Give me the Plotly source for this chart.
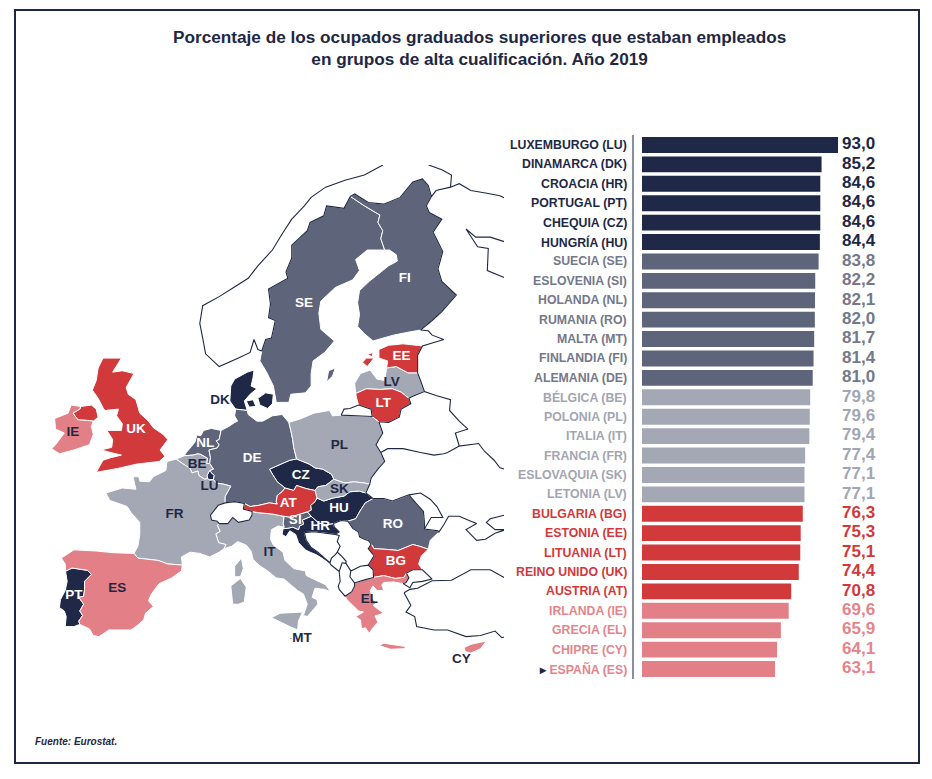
import plotly.graph_objects as go

# ── Datos de las barras ───────────────────────────────────────────────────────

paises = [
    "LUXEMBURGO (LU)", "DINAMARCA (DK)", "CROACIA (HR)", "PORTUGAL (PT)",
    "CHEQUIA (CZ)", "HUNGRÍA (HU)", "SUECIA (SE)", "ESLOVENIA (SI)",
    "HOLANDA (NL)", "RUMANIA (RO)", "MALTA (MT)", "FINLANDIA (FI)",
    "ALEMANIA (DE)", "BÉLGICA (BE)", "POLONIA (PL)", "ITALIA (IT)",
    "FRANCIA (FR)", "ESLOVAQUIA (SK)", "LETONIA (LV)", "BULGARIA (BG)",
    "ESTONIA (EE)", "LITUANIA (LT)", "REINO UNIDO (UK)", "AUSTRIA (AT)",
    "IRLANDA (IE)", "GRECIA (EL)", "CHIPRE (CY)", "ESPAÑA (ES)",
]
codigos = ["LU", "DK", "HR", "PT", "CZ", "HU", "SE", "SI", "NL", "RO", "MT", "FI",
           "DE", "BE", "PL", "IT", "FR", "SK", "LV", "BG", "EE", "LT", "UK", "AT",
           "IE", "EL", "CY", "ES"]
iso3 = ["LUX", "DNK", "HRV", "PRT", "CZE", "HUN", "SWE", "SVN", "NLD", "ROU", "MLT", "FIN",
        "DEU", "BEL", "POL", "ITA", "FRA", "SVK", "LVA", "BGR", "EST", "LTU", "GBR", "AUT",
        "IRL", "GRC", "CYP", "ESP"]
valores = [93.0, 85.2, 84.6, 84.6, 84.6, 84.4, 83.8, 82.2, 82.1, 82.0, 81.7, 81.4,
           81.0, 79.8, 79.6, 79.4, 77.4, 77.1, 77.1, 76.3, 75.3, 75.1, 74.4, 70.8,
           69.6, 65.9, 64.1, 63.1]
grupo = [0] * 6 + [1] * 7 + [2] * 6 + [3] * 5 + [4] * 4

# etiquetas del mapa colocadas junto al país (borde usado, posición del texto)
fuera = {"DK": ("oeste", "middle left"), "LU": ("sur", "bottom center"),
         "MT": ("este", "middle right"), "CY": ("sur", "bottom left")}
ajuste = {"SE": "bottom left", "FI": "bottom center", "UK": "bottom right",
          "HR": "top right"}

TITULO = ("Porcentaje de los ocupados graduados superiores que estaban empleados<br>"
          "en grupos de alta cualificación. Año 2019")
FUENTE = "Fuente: Eurostat."

# ── Contornos simplificados (lon, lat) ────────────────────────────────────────

PRT = [[(-8.87, 41.87), (-8.2, 42.15), (-6.6, 41.95), (-6.2, 41.6), (-6.9, 41.0), (-6.9, 40.3),
        (-7.0, 39.7), (-7.5, 39.6), (-7.0, 39.0), (-7.4, 38.4), (-7.1, 38.0), (-7.5, 37.5),
        (-7.4, 37.2), (-8.0, 37.0), (-8.9, 37.0), (-8.8, 37.9), (-9.0, 38.4), (-9.5, 38.7),
        (-9.4, 39.4), (-8.9, 40.2), (-8.7, 41.0)]]
ESP = [[(-9.3, 43.0), (-8.0, 43.7), (-5.7, 43.6), (-3.8, 43.45), (-1.8, 43.4), (-1.4, 43.0),
        (0.7, 42.8), (1.7, 42.5), (3.2, 42.4), (3.1, 41.9), (2.1, 41.3), (0.8, 40.8), (0.0, 39.9),
        (-0.3, 39.3), (0.2, 38.8), (-0.6, 38.2), (-0.8, 37.6), (-1.6, 37.0), (-2.1, 36.7),
        (-4.4, 36.7), (-5.4, 36.1), (-6.0, 36.2), (-6.4, 36.8), (-7.4, 37.2), (-7.5, 37.5),
        (-7.1, 38.0), (-7.4, 38.4), (-7.0, 39.0), (-7.5, 39.6), (-7.0, 39.7), (-6.9, 40.3),
        (-6.9, 41.0), (-6.2, 41.6), (-6.6, 41.95), (-8.2, 42.15), (-8.87, 41.87), (-8.9, 42.5)]]
FRA = [[(2.55, 51.09), (1.6, 50.9), (1.5, 50.2), (0.2, 49.7), (-0.2, 49.3), (-1.2, 49.35),
        (-1.3, 49.7), (-1.9, 49.7), (-1.6, 48.7), (-3.0, 48.8), (-4.7, 48.4), (-4.3, 47.8),
        (-2.5, 47.3), (-2.1, 46.8), (-1.2, 46.0), (-1.2, 45.0), (-1.4, 44.0), (-1.8, 43.4),
        (-1.4, 43.0), (0.7, 42.8), (1.7, 42.5), (3.2, 42.4), (3.1, 43.1), (4.0, 43.5), (5.0, 43.4),
        (6.0, 43.1), (7.0, 43.5), (7.5, 43.8), (7.7, 44.15), (6.95, 44.3), (6.65, 45.05),
        (7.1, 45.25), (6.8, 45.75), (7.0, 45.9), (6.8, 46.1), (6.2, 46.2), (6.1, 46.6),
        (6.9, 47.4), (7.6, 47.6), (7.6, 48.1), (8.2, 48.95), (7.5, 49.1), (6.7, 49.2),
        (6.4, 49.47), (6.0, 49.45), (5.8, 49.55), (5.5, 49.5), (4.9, 49.8), (4.8, 50.15),
        (4.2, 50.0), (4.0, 50.35), (3.2, 50.75)],
       [(8.6, 41.4), (8.6, 42.3), (9.3, 43.0), (9.5, 42.1), (9.2, 41.4)]]
BEL = [[(2.55, 51.09), (3.4, 51.35), (4.3, 51.4), (4.8, 51.5), (5.1, 51.45), (5.8, 51.15),
        (5.7, 50.75), (6.02, 50.75), (6.4, 50.3), (6.0, 50.18), (5.75, 49.8), (5.8, 49.55),
        (5.5, 49.5), (4.9, 49.8), (4.8, 50.15), (4.2, 50.0), (4.0, 50.35), (3.2, 50.75)]]
LUX = [[(5.8, 49.55), (5.75, 49.8), (6.0, 50.18), (6.15, 50.05), (6.5, 49.8), (6.4, 49.47),
        (6.0, 49.45)]]
NLD = [[(3.4, 51.35), (3.6, 51.6), (4.0, 51.95), (4.5, 52.4), (4.7, 52.95), (5.1, 52.9),
        (5.4, 53.3), (6.2, 53.45), (7.2, 53.3), (7.0, 52.6), (6.7, 52.5), (7.0, 52.2),
        (6.8, 51.95), (5.95, 51.8), (6.1, 51.2), (6.02, 50.75), (5.7, 50.75), (5.8, 51.15),
        (5.1, 51.45), (4.8, 51.5), (4.3, 51.4)]]
DEU = [[(7.2, 53.3), (8.0, 53.6), (8.6, 53.9), (8.9, 54.0), (8.6, 54.4), (8.7, 54.9),
        (9.9, 54.8), (10.0, 54.5), (10.9, 54.0), (11.5, 54.0), (12.5, 54.4), (13.5, 54.5),
        (14.2, 53.9), (14.4, 53.3), (14.6, 52.6), (14.7, 52.0), (15.0, 51.1), (14.3, 51.0),
        (12.2, 50.3), (12.5, 49.9), (13.0, 49.3), (13.8, 48.8), (13.5, 48.5), (13.0, 48.2),
        (12.9, 47.7), (13.0, 47.5), (12.2, 47.6), (11.1, 47.4), (10.2, 47.3), (9.6, 47.55),
        (8.6, 47.7), (7.6, 47.6), (7.6, 48.1), (8.2, 48.95), (7.5, 49.1), (6.7, 49.2),
        (6.4, 49.47), (6.5, 49.8), (6.15, 50.05), (6.0, 50.18), (6.4, 50.3), (6.02, 50.75),
        (6.1, 51.2), (5.95, 51.8), (6.8, 51.95), (7.0, 52.2), (6.7, 52.5), (7.0, 52.6)]]
DNK = [[(8.7, 54.9), (8.1, 55.5), (8.2, 56.6), (8.6, 57.1), (9.9, 57.6), (10.6, 57.75),
        (10.5, 57.2), (10.3, 56.6), (10.9, 56.4), (10.2, 56.0), (9.6, 55.5), (9.9, 54.8)],
       [(11.0, 55.7), (11.8, 56.1), (12.6, 56.0), (12.5, 55.3), (12.0, 54.95), (11.2, 55.2)],
       [(9.8, 55.5), (10.5, 55.6), (10.8, 55.1), (10.1, 55.05)]]
GBR = [[(-5.7, 50.05), (-3.5, 50.35), (-1.5, 50.7), (0.8, 50.9), (1.4, 51.3), (0.9, 51.8),
        (1.7, 52.6), (1.2, 53.0), (0.2, 53.5), (-0.3, 54.0), (-1.2, 54.6), (-1.6, 55.6),
        (-2.4, 56.0), (-2.6, 56.5), (-1.8, 57.5), (-3.0, 57.7), (-4.0, 57.6), (-3.1, 58.6),
        (-5.0, 58.6), (-5.5, 57.9), (-5.7, 57.0), (-6.1, 56.3), (-5.5, 55.7), (-5.0, 55.0),
        (-4.8, 54.8), (-3.4, 54.9), (-3.6, 54.4), (-3.0, 53.8), (-3.1, 53.3), (-4.6, 53.3),
        (-4.0, 52.6), (-4.1, 52.0), (-5.2, 51.8), (-4.2, 51.6), (-3.1, 51.4), (-4.2, 51.2),
        (-5.0, 51.0)],
       [(-5.5, 54.3), (-5.7, 54.9), (-6.2, 55.2), (-7.3, 55.1), (-7.4, 54.9), (-8.1, 54.6),
        (-7.6, 54.1), (-6.6, 54.05), (-6.0, 54.0)]]
IRL = [[(-6.0, 54.0), (-6.6, 54.05), (-7.6, 54.1), (-8.1, 54.6), (-7.4, 54.9), (-7.3, 55.1),
        (-8.3, 55.2), (-8.6, 54.6), (-10.0, 54.2), (-9.9, 53.4), (-9.0, 53.1), (-9.9, 52.2),
        (-10.3, 51.9), (-9.5, 51.5), (-8.0, 51.8), (-6.4, 52.2), (-6.0, 53.0), (-6.2, 53.6)]]
ITA = [[(7.5, 43.8), (8.3, 44.0), (8.9, 44.4), (9.8, 44.1), (10.3, 43.6), (10.5, 42.9),
        (11.1, 42.4), (12.0, 41.9), (12.9, 41.3), (13.7, 41.2), (14.4, 40.7), (15.1, 40.2),
        (15.7, 39.9), (16.1, 39.0), (15.7, 38.0), (16.1, 37.9), (16.6, 38.4), (17.2, 39.0),
        (17.1, 39.4), (16.6, 39.6), (16.9, 40.4), (17.9, 40.3), (18.5, 40.1), (18.0, 40.7),
        (17.0, 41.1), (16.0, 41.5), (15.9, 41.9), (14.7, 42.1), (13.8, 42.8), (13.6, 43.5),
        (12.6, 44.1), (12.3, 44.6), (12.4, 45.4), (13.1, 45.7), (13.7, 45.6), (13.6, 45.9),
        (13.7, 46.5), (12.4, 46.7), (11.0, 46.8), (10.4, 46.9), (10.4, 46.6), (10.1, 46.2),
        (9.0, 46.0), (8.4, 46.4), (7.9, 45.9), (7.0, 45.9), (6.8, 45.75), (7.1, 45.25),
        (6.65, 45.05), (6.95, 44.3), (7.7, 44.15)],
       [(12.4, 37.8), (13.3, 38.2), (15.6, 38.3), (15.2, 37.5), (15.1, 36.7), (14.3, 37.0)],
       [(8.4, 39.0), (8.2, 40.6), (9.2, 41.25), (9.8, 40.5), (9.6, 39.2), (9.0, 39.0)]]
AUT = [[(9.6, 47.55), (10.2, 47.3), (11.1, 47.4), (12.2, 47.6), (13.0, 47.5), (12.9, 47.7),
        (13.0, 48.2), (13.5, 48.5), (13.8, 48.8), (14.7, 48.6), (15.0, 49.0), (16.0, 48.75),
        (16.9, 48.6), (17.1, 48.0), (16.9, 47.7), (16.45, 47.4), (16.5, 47.0), (16.1, 46.87),
        (15.0, 46.6), (14.6, 46.4), (13.7, 46.5), (12.4, 46.7), (11.0, 46.8), (10.4, 46.9),
        (9.5, 47.1)]]
CZE = [[(12.2, 50.3), (14.3, 51.0), (15.0, 51.1), (16.3, 50.7), (16.9, 50.4), (17.7, 50.3),
        (18.6, 49.9), (18.85, 49.5), (18.0, 49.0), (17.2, 48.9), (16.9, 48.6), (16.0, 48.75),
        (15.0, 49.0), (14.7, 48.6), (13.8, 48.8), (13.0, 49.3), (12.5, 49.9)]]
POL = [[(14.2, 53.9), (15.5, 54.2), (16.8, 54.6), (18.4, 54.8), (18.7, 54.4), (19.6, 54.45),
        (22.8, 54.35), (23.5, 53.95), (23.9, 53.1), (23.5, 52.6), (23.2, 52.2), (23.7, 51.6),
        (24.1, 50.9), (23.5, 50.4), (22.7, 49.6), (22.55, 49.1), (22.0, 49.2), (20.9, 49.3),
        (20.0, 49.2), (19.2, 49.4), (18.85, 49.5), (18.6, 49.9), (17.7, 50.3), (16.9, 50.4),
        (16.3, 50.7), (15.0, 51.1), (14.7, 52.0), (14.6, 52.6), (14.4, 53.3)]]
SVK = [[(16.9, 48.6), (17.2, 48.9), (18.0, 49.0), (18.85, 49.5), (19.2, 49.4), (20.0, 49.2),
        (20.9, 49.3), (22.0, 49.2), (22.55, 49.1), (22.15, 48.4), (21.5, 48.55), (20.5, 48.5),
        (19.9, 48.15), (18.8, 48.0), (17.8, 47.75), (17.1, 48.0)]]
HUN = [[(17.1, 48.0), (17.8, 47.75), (18.8, 48.0), (19.9, 48.15), (20.5, 48.5), (21.5, 48.55),
        (22.15, 48.4), (22.9, 47.95), (22.1, 47.6), (21.6, 47.0), (21.1, 46.3), (20.3, 46.1),
        (19.6, 46.15), (18.8, 45.9), (18.0, 45.8), (17.3, 45.95), (16.5, 46.5), (16.1, 46.87),
        (16.5, 47.0), (16.45, 47.4), (16.9, 47.7)]]
SVN = [[(13.7, 46.5), (14.6, 46.4), (15.0, 46.6), (16.1, 46.87), (16.5, 46.5), (15.6, 46.2),
        (15.7, 45.85), (15.3, 45.7), (15.2, 45.4), (14.6, 45.6), (14.0, 45.5), (13.6, 45.48),
        (13.7, 45.6), (13.6, 45.9)]]
HRV = [[(13.6, 45.48), (14.0, 45.5), (14.6, 45.6), (15.2, 45.4), (15.3, 45.7), (15.7, 45.85),
        (15.6, 46.2), (16.5, 46.5), (17.3, 45.95), (18.0, 45.8), (18.8, 45.9), (18.9, 45.6),
        (19.4, 45.2), (19.0, 45.0), (18.0, 45.1), (17.0, 45.2), (16.5, 45.2), (15.8, 45.15),
        (16.0, 44.5), (16.5, 43.9), (17.2, 43.5), (17.8, 43.05), (18.45, 42.6), (18.5, 42.45),
        (17.6, 43.0), (17.0, 43.3), (16.4, 43.5), (15.9, 43.7), (15.2, 44.3), (14.9, 45.0),
        (14.3, 45.3), (13.9, 44.8), (13.5, 45.0)]]
ROU = [[(20.3, 46.1), (21.1, 46.3), (21.6, 47.0), (22.1, 47.6), (22.9, 47.95), (24.0, 47.95),
        (24.9, 47.75), (26.6, 48.25), (27.3, 47.6), (28.1, 46.9), (28.2, 46.0), (28.2, 45.45),
        (29.6, 45.3), (29.7, 45.2), (28.8, 44.5), (28.6, 43.75), (27.7, 44.0), (27.0, 44.15),
        (25.5, 43.65), (24.1, 43.75), (23.0, 43.8), (22.7, 44.2), (22.4, 44.5), (22.0, 44.6),
        (21.5, 44.8), (21.4, 45.2), (20.8, 45.5)]]
BGR = [[(22.7, 44.2), (23.0, 43.8), (24.1, 43.75), (25.5, 43.65), (27.0, 44.15), (27.7, 44.0),
        (28.6, 43.75), (27.9, 43.2), (27.6, 42.5), (28.0, 42.0), (27.0, 42.0), (26.35, 41.71),
        (26.1, 41.35), (25.2, 41.25), (24.0, 41.5), (22.95, 41.34), (22.9, 42.0), (22.4, 42.4),
        (23.0, 43.2), (22.4, 43.8)]]
GRC = [[(20.0, 39.7), (20.7, 40.1), (21.0, 40.6), (20.98, 40.86), (22.1, 41.15), (22.95, 41.34),
        (24.0, 41.5), (25.2, 41.25), (26.1, 41.35), (26.35, 41.71), (26.6, 41.3), (26.3, 40.9),
        (26.0, 40.8), (25.0, 40.95), (24.0, 40.9), (23.8, 40.7), (24.0, 40.2), (23.3, 40.2),
        (22.9, 40.6), (22.6, 40.2), (22.9, 39.4), (23.3, 39.1), (22.9, 38.9), (23.5, 38.5),
        (24.0, 38.2), (23.1, 37.95), (23.4, 37.4), (22.8, 36.8), (22.5, 36.4), (22.1, 36.9),
        (21.7, 36.8), (21.6, 37.6), (21.1, 37.9), (21.9, 38.3), (21.4, 38.4), (20.8, 38.9),
        (20.2, 39.4)],
       [(23.5, 35.3), (24.0, 35.5), (25.5, 35.3), (26.3, 35.2), (26.1, 35.0), (24.7, 34.95)]]
CYP = [[(32.3, 35.1), (33.0, 35.4), (34.6, 35.7), (34.0, 35.0), (33.0, 34.6), (32.4, 34.75)]]
MLT = [[(14.2, 36.05), (14.55, 35.95), (14.55, 35.8), (14.35, 35.85)]]
SWE = [[(12.9, 55.4), (14.2, 55.4), (14.4, 56.0), (15.9, 56.1), (16.5, 56.6), (16.5, 57.5),
        (16.7, 58.4), (17.9, 59.0), (18.9, 59.8), (17.5, 60.6), (17.3, 61.7), (17.5, 62.5),
        (19.0, 63.4), (20.8, 63.9), (21.5, 64.5), (21.1, 65.2), (22.3, 65.8), (24.1, 65.8),
        (23.7, 66.5), (23.9, 67.0), (23.4, 67.5), (23.6, 67.95), (22.0, 68.5), (20.55, 69.06),
        (19.9, 68.35), (18.1, 68.5), (17.8, 67.9), (16.4, 67.5), (16.1, 67.0), (14.5, 66.1),
        (14.5, 65.3), (13.9, 64.4), (14.1, 64.0), (12.1, 63.3), (12.3, 62.3), (12.1, 61.4),
        (12.8, 61.2), (12.4, 60.0), (11.8, 59.9), (11.4, 59.1), (11.2, 58.4), (11.9, 57.6),
        (12.6, 56.6)],
       [(18.1, 56.9), (18.7, 57.3), (19.0, 57.9), (18.3, 57.7)]]
FIN = [[(20.55, 69.06), (21.0, 69.2), (22.4, 68.7), (24.0, 68.6), (25.7, 69.0), (27.0, 69.9),
        (28.0, 70.08), (28.6, 69.7), (28.93, 69.05), (28.4, 68.5), (28.7, 68.1), (30.0, 67.7),
        (29.1, 66.9), (30.1, 65.7), (29.6, 64.6), (30.0, 63.8), (31.5, 62.9), (30.0, 61.8),
        (29.0, 61.2), (27.8, 60.55), (26.5, 60.4), (25.0, 60.2), (22.9, 59.8), (22.0, 60.3),
        (21.3, 60.8), (21.5, 61.6), (21.3, 62.4), (21.5, 63.2), (22.5, 63.8), (23.5, 64.3),
        (24.5, 64.8), (25.4, 65.1), (25.3, 65.5), (24.6, 65.8), (24.1, 65.8), (23.7, 66.5),
        (23.9, 67.0), (23.4, 67.5), (23.6, 67.95), (22.0, 68.5)]]
EST = [[(23.5, 59.2), (24.5, 59.5), (26.0, 59.6), (28.0, 59.45), (27.5, 58.8), (27.5, 58.0),
        (27.5, 57.55), (26.5, 57.55), (25.3, 58.0), (24.3, 57.9), (24.4, 58.4), (23.5, 58.6)],
       [(21.8, 58.3), (22.2, 58.6), (23.0, 58.6), (22.3, 58.0)],
       [(22.3, 58.85), (22.9, 59.0), (22.8, 58.7)]]
LVA = [[(21.0, 56.8), (21.6, 57.5), (22.6, 57.75), (23.3, 57.1), (24.1, 57.0), (24.3, 57.9),
        (25.3, 58.0), (26.5, 57.55), (27.5, 57.55), (27.8, 57.0), (28.2, 56.2), (27.0, 55.85),
        (26.6, 55.7), (25.8, 56.15), (24.9, 56.4), (23.6, 56.35), (22.2, 56.4), (21.1, 56.05)]]
LTU = [[(21.1, 56.05), (22.2, 56.4), (23.6, 56.35), (24.9, 56.4), (25.8, 56.15), (26.6, 55.7),
        (26.8, 55.3), (25.8, 54.9), (25.6, 54.3), (24.5, 53.9), (23.5, 53.95), (22.8, 54.35),
        (22.7, 54.9), (21.4, 55.2), (21.2, 55.7)]]

# países fuera de la UE (solo contorno)
NOR = [[(11.4, 59.1), (11.8, 59.9), (12.4, 60.0), (12.8, 61.2), (12.1, 61.4), (12.3, 62.3),
        (12.1, 63.3), (14.1, 64.0), (13.9, 64.4), (14.5, 65.3), (14.5, 66.1), (16.1, 67.0),
        (16.4, 67.5), (17.8, 67.9), (18.1, 68.5), (19.9, 68.35), (20.55, 69.06), (21.0, 69.2),
        (22.4, 68.7), (24.0, 68.6), (25.7, 69.0), (27.0, 69.9), (28.0, 70.08), (28.6, 69.7),
        (28.93, 69.05), (29.4, 69.4), (30.9, 69.6), (31.0, 70.3), (30.0, 70.6), (28.0, 71.0),
        (26.0, 71.0), (24.0, 70.9), (22.0, 70.3), (20.0, 70.0), (18.0, 69.6), (16.5, 69.0),
        (15.8, 68.5), (14.5, 67.7), (13.5, 66.8), (12.5, 65.8), (11.0, 64.8), (10.0, 64.0),
        (8.5, 63.4), (7.0, 62.8), (5.3, 62.2), (5.0, 61.0), (5.3, 60.0), (5.6, 58.9),
        (7.0, 58.0), (9.0, 58.6), (10.2, 59.0), (10.6, 59.9), (11.0, 59.2)]]
CHE = [[(7.0, 45.9), (6.8, 46.1), (6.2, 46.2), (6.1, 46.6), (6.9, 47.4), (7.6, 47.6),
        (8.6, 47.7), (9.6, 47.55), (9.5, 47.1), (10.4, 46.9), (10.4, 46.6), (10.1, 46.2),
        (9.0, 46.0), (8.4, 46.4), (7.9, 45.9)]]
BIH = [[(15.8, 45.15), (16.5, 45.2), (17.0, 45.2), (18.0, 45.1), (19.0, 45.0), (19.4, 44.9),
        (19.2, 44.4), (19.5, 44.0), (19.2, 43.5), (19.0, 43.3), (18.6, 43.0), (18.45, 42.6),
        (17.8, 43.05), (17.2, 43.5), (16.5, 43.9), (16.0, 44.5)]]
SRB = [[(18.8, 45.9), (19.6, 46.15), (20.3, 46.1), (20.8, 45.5), (21.4, 45.2), (21.5, 44.8),
        (22.0, 44.6), (22.4, 44.5), (22.7, 44.2), (22.4, 43.8), (23.0, 43.2), (22.4, 42.4),
        (21.6, 42.3), (20.6, 41.9), (20.1, 42.55), (20.1, 42.75), (19.6, 43.2), (19.2, 43.5),
        (19.5, 44.0), (19.2, 44.4), (19.4, 44.9), (19.0, 45.0), (19.4, 45.2), (18.9, 45.6)]]
MNE = [[(18.5, 42.45), (19.4, 41.85), (19.7, 42.6), (20.1, 42.55), (20.1, 42.75), (19.6, 43.2),
        (19.2, 43.5), (19.0, 43.3), (18.6, 43.0), (18.45, 42.6)]]
ALB = [[(19.4, 41.85), (19.5, 41.0), (19.3, 40.6), (19.4, 40.3), (20.0, 39.7), (20.7, 40.1),
        (21.0, 40.6), (20.98, 40.86), (20.5, 41.4), (20.6, 41.9), (20.1, 42.55), (19.7, 42.6)]]
MKD = [[(20.6, 41.9), (21.6, 42.3), (22.4, 42.4), (22.9, 42.0), (22.95, 41.34), (22.1, 41.15),
        (20.98, 40.86), (20.5, 41.4)]]
BLR = [[(23.5, 53.95), (24.5, 53.9), (25.6, 54.3), (25.8, 54.9), (26.8, 55.3), (26.6, 55.7),
        (27.0, 55.85), (28.2, 56.2), (29.4, 55.9), (30.9, 55.6), (30.8, 54.8), (31.8, 54.0),
        (32.7, 53.4), (31.4, 53.1), (31.8, 52.1), (30.6, 51.6), (30.2, 51.5), (29.2, 51.4),
        (27.8, 51.6), (26.0, 51.9), (24.4, 51.9), (23.7, 51.6), (23.2, 52.2), (23.5, 52.6),
        (23.9, 53.1)]]
UKR = [[(22.15, 48.4), (22.55, 49.1), (22.7, 49.6), (23.5, 50.4), (24.1, 50.9), (23.7, 51.6),
        (24.4, 51.9), (26.0, 51.9), (27.8, 51.6), (29.2, 51.4), (30.2, 51.5), (30.6, 51.6),
        (31.8, 52.1), (33.8, 52.3), (34.4, 51.7), (35.4, 51.0), (36.0, 50.4), (38.0, 50.0),
        (40.0, 49.6), (40.0, 47.8), (38.2, 47.1), (37.0, 46.7), (35.0, 46.3), (34.6, 46.0),
        (35.5, 45.4), (36.6, 45.4), (35.5, 45.1), (34.5, 44.6), (33.6, 44.5), (32.5, 45.4),
        (33.6, 45.9), (33.0, 46.1), (31.8, 46.5), (30.7, 46.5), (30.2, 45.8), (29.7, 45.2),
        (29.6, 45.3), (28.2, 45.45), (28.9, 46.4), (30.1, 46.4), (29.5, 47.3), (28.8, 47.9),
        (27.8, 48.4), (26.6, 48.25), (24.9, 47.75), (24.0, 47.95), (22.9, 47.95)]]
MDA = [[(26.6, 48.25), (27.8, 48.4), (28.8, 47.9), (29.5, 47.3), (30.1, 46.4), (28.9, 46.4),
        (28.2, 45.45), (28.2, 46.0), (28.1, 46.9), (27.3, 47.6)]]
RUS = [[(27.8, 60.55), (29.0, 61.2), (30.0, 61.8), (31.5, 62.9), (30.0, 63.8), (29.6, 64.6),
        (30.1, 65.7), (29.1, 66.9), (30.0, 67.7), (28.7, 68.1), (28.4, 68.5), (28.93, 69.05),
        (29.4, 69.4), (30.9, 69.6), (31.8, 69.8), (33.0, 69.4), (36.0, 69.1), (40.0, 67.9),
        (41.0, 67.0), (41.0, 66.2), (38.0, 66.0), (35.0, 66.6), (33.5, 66.6), (32.5, 67.1),
        (33.7, 66.0), (34.8, 65.9), (34.7, 64.5), (37.0, 63.9), (38.0, 64.4), (40.5, 64.5),
        (43.0, 66.0), (46.0, 66.5), (46.0, 43.0), (41.0, 43.0), (39.0, 44.3), (37.5, 45.2),
        (38.0, 46.3), (39.2, 47.1), (38.2, 47.1), (40.0, 47.8), (40.0, 49.6), (38.0, 50.0),
        (36.0, 50.4), (35.4, 51.0), (34.4, 51.7), (33.8, 52.3), (31.8, 52.1), (31.4, 53.1),
        (32.7, 53.4), (31.8, 54.0), (30.8, 54.8), (30.9, 55.6), (29.4, 55.9), (28.2, 56.2),
        (27.8, 57.0), (27.5, 57.55), (27.5, 58.0), (27.5, 58.8), (28.0, 59.45), (30.2, 59.9),
        (29.0, 60.2), (28.6, 60.5)],
       [(19.6, 54.45), (22.8, 54.35), (22.7, 54.9), (21.4, 55.2), (20.5, 54.95), (19.9, 54.9)]]
TUR = [[(26.35, 41.71), (27.0, 42.0), (28.0, 42.0), (29.0, 41.2), (28.0, 41.0), (27.0, 40.9),
        (26.7, 40.45), (26.0, 40.8), (26.3, 40.9), (26.6, 41.3)],
       [(26.1, 40.0), (26.7, 40.3), (27.5, 40.4), (29.0, 41.05), (31.0, 41.1), (33.0, 42.0),
        (35.0, 42.0), (36.5, 41.3), (38.0, 41.0), (42.0, 41.5), (44.0, 40.0), (44.0, 37.0),
        (40.0, 37.0), (36.2, 36.0), (35.5, 36.6), (34.0, 36.2), (32.5, 36.1), (30.6, 36.7),
        (29.2, 36.7), (27.4, 37.0), (27.2, 37.9), (26.3, 38.3), (26.8, 38.9)]]

ue = dict(PRT=PRT, ESP=ESP, FRA=FRA, BEL=BEL, LUX=LUX, NLD=NLD, DEU=DEU, DNK=DNK, GBR=GBR,
          IRL=IRL, ITA=ITA, AUT=AUT, CZE=CZE, POL=POL, SVK=SVK, HUN=HUN, SVN=SVN, HRV=HRV,
          ROU=ROU, BGR=BGR, GRC=GRC, CYP=CYP, MLT=MLT, SWE=SWE, FIN=FIN, EST=EST, LVA=LVA,
          LTU=LTU)
no_ue = [NOR, CHE, BIH, SRB, MNE, ALB, MKD, BLR, UKR, MDA, RUS, TUR]

# ── Estilo ────────────────────────────────────────────────────────────────────

NAVY = "#1e2845"
BAR_COLORS   = ["#1f2846", "#5e6479", "#a4a7b4", "#d2393b", "#e38087"]
LABEL_COLORS = ["#1e2845", "#73788a", "#a2a5b2", "#d2383a", "#e5848b"]
FONT = "Liberation Sans, Arial, sans-serif"

# la página deja 8 px de margen en el body: el lienzo queda en (8, 8)
OFF = 8
W, H = 932 - OFF, 779 - OFF


def fx(px):
    return (px - OFF) / W


def fy(py):
    return 1 - (py - OFF) / H


# escala de las barras: 0 -> x=642 px, 93 -> x=838 px
PX_PER_UNIT = 196 / 93.0
X0_PX, AX_PX, XR_PX = 642, 634, 920
x_lo = -(X0_PX - AX_PX) / PX_PER_UNIT
x_hi = (XR_PX - X0_PX) / PX_PER_UNIT


def area_signed(pts):
    return sum(x1 * y2 - x2 * y1 for (x1, y1), (x2, y2) in zip(pts, pts[1:] + pts[:1])) / 2


def horario(ring):
    # d3-geo quiere los anillos exteriores en sentido horario
    pts = list(ring)
    if area_signed(pts) > 0:
        pts = pts[::-1]
    return [list(p) for p in pts + pts[:1]]


def centroide(ring):
    a = area_signed(ring)
    pts = list(ring)
    pares = list(zip(pts, pts[1:] + pts[:1]))
    cx = sum((x1 + x2) * (x1 * y2 - x2 * y1) for (x1, y1), (x2, y2) in pares)
    cy = sum((y1 + y2) * (x1 * y2 - x2 * y1) for (x1, y1), (x2, y2) in pares)
    return cx / (6 * a), cy / (6 * a)


def ancla(code, rings):
    ring = max(rings, key=lambda r: abs(area_signed(r)))
    if code not in fuera:
        return centroide(ring)
    lado = fuera[code][0]
    if lado == "oeste":
        return min(ring, key=lambda p: p[0])
    if lado == "este":
        return max(ring, key=lambda p: p[0])
    return min(ring, key=lambda p: p[1])


GJ = {"type": "FeatureCollection", "features": [
    {"type": "Feature", "id": k, "properties": {},
     "geometry": {"type": "MultiPolygon", "coordinates": [[horario(r)] for r in rings]}}
    for k, rings in ue.items()]}

anclas = [ancla(c, ue[i]) for c, i in zip(codigos, iso3)]

borde_lon, borde_lat = [], []
for rings in no_ue:
    for r in rings:
        borde_lon += [p[0] for p in r] + [r[0][0], None]
        borde_lat += [p[1] for p in r] + [r[0][1], None]

fig = go.Figure()

# ── Barras ────────────────────────────────────────────────────────────────────

bar_cols = [BAR_COLORS[g] for g in grupo]
lab_cols = [LABEL_COLORS[g] for g in grupo]

fig.add_trace(go.Bar(
    x=valores, y=paises, orientation="h",
    marker=dict(color=bar_cols, line=dict(width=0)),
    hoverinfo="x+y", showlegend=False,
))

fig.add_trace(go.Scatter(
    x=[(842 - X0_PX) / PX_PER_UNIT] * len(paises), y=paises,
    mode="text", text=[f"{v:.1f}".replace(".", ",") for v in valores],
    textposition="middle right",
    textfont=dict(family=FONT, size=17, color=lab_cols, weight="bold"),
    cliponaxis=False, hoverinfo="skip", showlegend=False,
))

etiquetas = list(paises)
etiquetas[-1] = f"<span style='color:{NAVY}'>▸</span> " + etiquetas[-1]
notas = [dict(text=t, x=fx(629), xref="paper", y=p, yref="y", xanchor="right",
              yanchor="middle", showarrow=False,
              font=dict(family=FONT, size=12.3, color=c, weight="bold"))
         for t, p, c in zip(etiquetas, paises, lab_cols)]

# ── Mapa ──────────────────────────────────────────────────────────────────────

# primero una traza con lon/lat: así plotly no pide el topojson base
txt_cols = [NAVY if (c in fuera or g in (2, 4)) else "white"
            for c, g in zip(codigos, grupo)]
fig.add_trace(go.Scattergeo(
    lon=[a[0] for a in anclas], lat=[a[1] for a in anclas],
    mode="text", text=codigos,
    textposition=[fuera[c][1] if c in fuera else ajuste.get(c, "middle center")
                  for c in codigos],
    textfont=dict(family=FONT, size=13.5, weight="bold", color=txt_cols),
    geo="geo", hoverinfo="skip", showlegend=False,
))

for g, col in enumerate(BAR_COLORS):
    locs = [c for c, gg in zip(iso3, grupo) if gg == g]
    fig.add_trace(go.Choropleth(
        geojson=GJ, featureidkey="id", locations=locs, z=[1] * len(locs),
        colorscale=[[0, col], [1, col]], showscale=False,
        marker_line_color="white", marker_line_width=1,
        geo="geo", hoverinfo="location",
    ))

# contornos de los países de fuera de la UE
fig.add_trace(go.Scattergeo(
    lon=borde_lon, lat=borde_lat, mode="lines",
    line=dict(color=NAVY, width=1.1),
    geo="geo", hoverinfo="skip", showlegend=False,
))

fig.update_layout(
    width=W, height=H,
    margin=dict(l=0, r=0, t=0, b=0),
    paper_bgcolor="white", plot_bgcolor="white",
    bargap=0.18,
    xaxis=dict(domain=[fx(AX_PX), fx(XR_PX)], range=[x_lo, x_hi],
               visible=False, fixedrange=True),
    yaxis=dict(domain=[fy(678.7), fy(135.3)], range=[len(paises) - 0.5, -0.5],
               showticklabels=False, ticks="", showgrid=False, zeroline=False,
               showline=True, linecolor="#8a8fa0", linewidth=1.6, fixedrange=True),
    geo=dict(
        domain=dict(x=[fx(40), fx(505)], y=[fy(690), fy(165)]),
        projection=dict(type="miller", scale=1.012),
        center=dict(lon=12.51, lat=53.52),
        lonaxis=dict(range=[-11.61, 36.82]), lataxis=dict(range=[30.93, 70.98]),
        showland=False, showcountries=False, showcoastlines=False, showocean=False,
        showlakes=False, showrivers=False, showsubunits=False, showframe=False,
        bgcolor="rgba(0,0,0,0)",
    ),
    shapes=[dict(type="rect", xref="paper", yref="paper",
                 x0=fx(15), x1=fx(919), y0=fy(763), y1=fy(10),
                 line=dict(color=NAVY, width=2))],
    annotations=[
        dict(text=TITULO, xref="paper", yref="paper", x=fx(479), y=fy(47.5),
             xanchor="center", yanchor="middle", showarrow=False, align="center",
             font=dict(family=FONT, size=17.2, color=NAVY, weight="bold")),
        dict(text=f"<i>{FUENTE}</i>", xref="paper", yref="paper",
             x=fx(33), y=fy(741), xanchor="left", yanchor="middle", showarrow=False,
             font=dict(family=FONT, size=10, color=NAVY, weight="bold")),
    ] + notas,
)

fig.write_html("out.html")
